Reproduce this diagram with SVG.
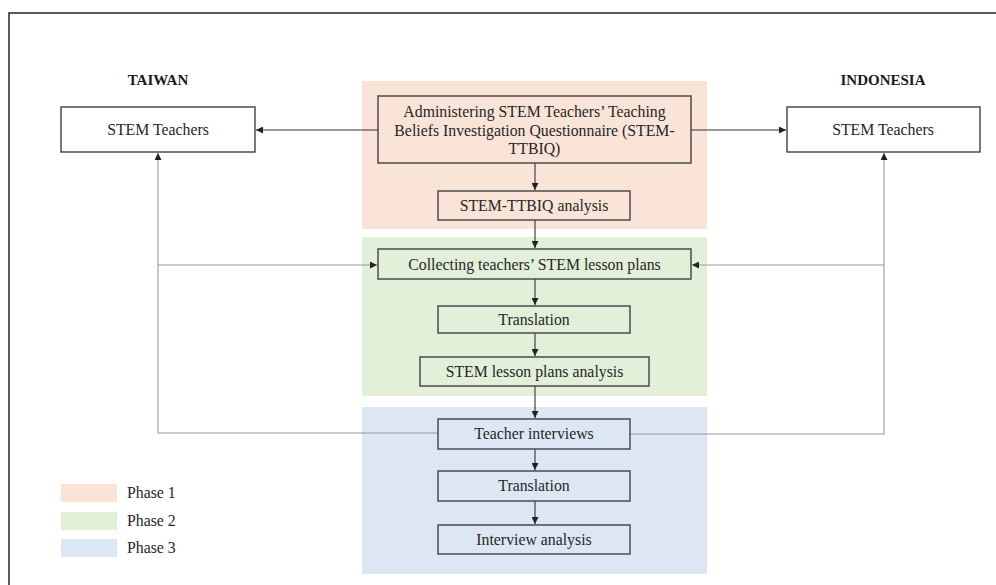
<svg xmlns="http://www.w3.org/2000/svg" width="996" height="585" viewBox="0 0 996 585">
<style>
text{font-family:"Liberation Serif","Times New Roman",serif;font-size:15.8px;fill:#262626;}
.hd{font-weight:bold;font-size:15px;fill:#1a1a1a;}
.box{fill:none;stroke:#404040;stroke-width:1.4;}
.wbox{fill:#fff;stroke:#404040;stroke-width:1.4;}
.c{fill:none;stroke:#333;stroke-width:1.1;}
.g{fill:none;stroke:#9a9a9a;stroke-width:1.1;}
</style>
<defs>
<marker id="ah" viewBox="0 0 8 8" refX="8" refY="4" markerWidth="7" markerHeight="7" markerUnits="userSpaceOnUse" orient="auto">
<path d="M0,0 L8,4 L0,8 z" fill="#222"/>
</marker>
</defs>
<rect x="0" y="0" width="996" height="585" fill="#fff"/>
<rect x="9" y="13" width="1000" height="600" fill="none" stroke="#333" stroke-width="1.6"/>

<g id="phases">
<rect x="362" y="81" width="345" height="148" fill="#FAE4D7"/>
<rect x="362" y="237" width="345" height="159" fill="#E2EFD9"/>
<rect x="362" y="407" width="345" height="167" fill="#DDE7F3"/>
</g>

<text class="hd" x="158" y="85" text-anchor="middle">TAIWAN</text>
<text class="hd" x="883" y="85" text-anchor="middle">INDONESIA</text>

<g id="connectors">
<line class="c" x1="378" y1="130" x2="256" y2="130" marker-end="url(#ah)"/>
<line class="c" x1="691" y1="130" x2="786" y2="130" marker-end="url(#ah)"/>
<line class="c" x1="535" y1="163" x2="535" y2="190" marker-end="url(#ah)"/>
<line class="c" x1="535" y1="220" x2="535" y2="248" marker-end="url(#ah)"/>
<line class="c" x1="535" y1="279" x2="535" y2="305" marker-end="url(#ah)"/>
<line class="c" x1="535" y1="333" x2="535" y2="356" marker-end="url(#ah)"/>
<line class="c" x1="535" y1="386" x2="535" y2="418" marker-end="url(#ah)"/>
<line class="c" x1="535" y1="449" x2="535" y2="470" marker-end="url(#ah)"/>
<line class="c" x1="535" y1="501" x2="535" y2="524" marker-end="url(#ah)"/>
<polyline class="g" points="438,433 158,433 158,153" marker-end="url(#ah)"/>
<line class="g" x1="158" y1="265" x2="377" y2="265" marker-end="url(#ah)"/>
<polyline class="g" points="630,434 884,434 884,153" marker-end="url(#ah)"/>
<line class="g" x1="884" y1="265" x2="692" y2="265" marker-end="url(#ah)"/>
</g>

<g id="taiwan-teachers">
<rect class="wbox" x="61" y="107" width="194" height="45"/>
<text x="158" y="135" text-anchor="middle">STEM Teachers</text>
</g>
<g id="indonesia-teachers">
<rect class="wbox" x="787" y="107" width="193" height="45"/>
<text x="883" y="135" text-anchor="middle">STEM Teachers</text>
</g>
<g id="administering">
<rect class="box" x="378" y="96" width="313" height="67"/>
<text x="534.5" y="117" text-anchor="middle">Administering STEM Teachers’ Teaching</text>
<text x="534.5" y="135.5" text-anchor="middle">Beliefs Investigation Questionnaire (STEM-</text>
<text x="534.5" y="154" text-anchor="middle">TTBIQ)</text>
</g>
<g id="ttbiq-analysis">
<rect class="box" x="438" y="191" width="192" height="29"/>
<text x="534" y="210.5" text-anchor="middle">STEM-TTBIQ analysis</text>
</g>
<g id="collecting">
<rect class="box" x="378" y="249" width="313" height="30"/>
<text x="534.5" y="269.5" text-anchor="middle">Collecting teachers’ STEM lesson plans</text>
</g>
<g id="translation1">
<rect class="box" x="438" y="306" width="192" height="27"/>
<text x="534" y="324.5" text-anchor="middle">Translation</text>
</g>
<g id="lesson-analysis">
<rect class="box" x="420" y="357" width="229" height="29"/>
<text x="534.5" y="376.5" text-anchor="middle">STEM lesson plans analysis</text>
</g>
<g id="interviews">
<rect class="box" x="438" y="419" width="192" height="30"/>
<text x="534" y="438.5" text-anchor="middle">Teacher interviews</text>
</g>
<g id="translation2">
<rect class="box" x="438" y="471" width="192" height="30"/>
<text x="534" y="490.5" text-anchor="middle">Translation</text>
</g>
<g id="interview-analysis">
<rect class="box" x="438" y="525" width="192" height="29"/>
<text x="534" y="544.5" text-anchor="middle">Interview analysis</text>
</g>

<g id="legend">
<rect x="61" y="484" width="56" height="18" fill="#FAE4D7"/>
<text x="127" y="498">Phase 1</text>
<rect x="61" y="512" width="56" height="18" fill="#E2EFD9"/>
<text x="127" y="526">Phase 2</text>
<rect x="61" y="539" width="56" height="18" fill="#DDE7F3"/>
<text x="127" y="553">Phase 3</text>
</g>
</svg>
